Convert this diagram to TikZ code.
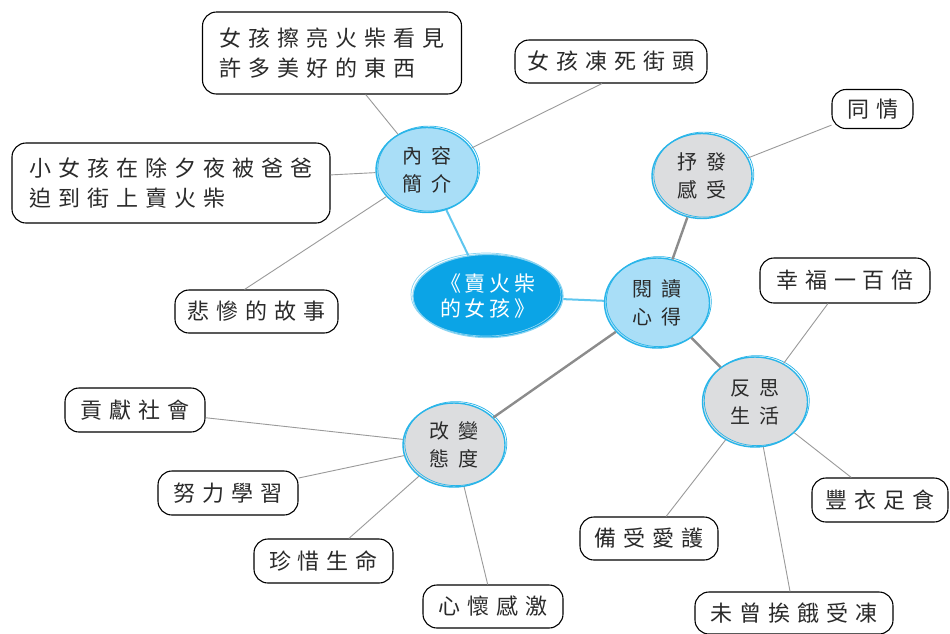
\documentclass[tikz,border=0pt]{standalone}
\usepackage{fontspec}
\setmainfont{Noto Sans CJK TC}
\usetikzlibrary{shapes.geometric}
\definecolor{hubline}{HTML}{29B5E9}
\definecolor{lightfill}{HTML}{A9DEF7}
\definecolor{greyfill}{HTML}{DCDDDF}
\definecolor{centerfill}{HTML}{0BA4E6}
\definecolor{centerline}{HTML}{8AD4F2}
\definecolor{linkgrey}{HTML}{9A9A9A}
\definecolor{hubgrey}{HTML}{8C8C8C}
\definecolor{bluelink}{HTML}{5EC6EF}
\definecolor{txt}{HTML}{2A2A2A}
\makeatletter
\newcommand\spc[2]{\@tfor\@ch:=#2\do{\@ch\hspace{#1}}\unskip}
\makeatother
\newcommand\ls[1]{\spc{7pt}{#1}}
\newcommand\hs[1]{\spc{9pt}{#1}}
\newcommand\cs[1]{\spc{4pt}{#1}}
\tikzset{
  leaf/.style={draw=black, line width=1.1pt, fill=white, rounded corners=14pt,
    inner sep=0pt, text=txt, font=\fontsize{22pt}{30pt}\selectfont},
  hub/.style={ellipse, draw=hubline, line width=1.4pt, inner sep=0pt, text=txt,
    align=center, font=\fontsize{20pt}{28pt}\selectfont,
    postaction={draw=hubline, line width=0.7pt, transform canvas={shift={(1.8pt,1.4pt)}}}},
  lighthub/.style={hub, fill=lightfill},
  greyhub/.style={hub, fill=greyfill},
  centre/.style={ellipse, fill=centerfill, draw=centerline, line width=1.2pt, inner sep=0pt,
    text=white, align=center, font=\fontsize{21pt}{25pt}\selectfont,
    postaction={draw=centerline, line width=0.7pt, transform canvas={shift={(-2pt,1.5pt)}}}},
  thin/.style={draw=linkgrey, line width=0.9pt},
  thick/.style={draw=hubgrey, line width=2.4pt},
  blue/.style={draw=bluelink, line width=2pt}
}
\begin{document}
\begin{tikzpicture}[x=1pt,y=-1pt]
\useasboundingbox[fill=white] (0,0) rectangle (950,633);
% hubs
\node[centre, minimum width=150pt, minimum height=83pt] (C) at (488,296) {\cs{《賣火柴}\\\cs{的女孩》}};
\node[lighthub, minimum width=102pt, minimum height=85pt] (H1) at (427,170) {\hs{內容}\\\hs{簡介}};
\node[lighthub, minimum width=105pt, minimum height=90pt] (H2) at (657,303) {\hs{閱讀}\\\hs{心得}};
\node[greyhub, minimum width=100pt, minimum height=85pt] (H3) at (702,176) {\hs{抒發}\\\hs{感受}};
\node[greyhub, minimum width=105pt, minimum height=90pt] (H4) at (755,402) {\hs{反思}\\\hs{生活}};
\node[greyhub, minimum width=102pt, minimum height=84pt] (H5) at (454,445) {\hs{改變}\\\hs{態度}};
% leaves
\node[leaf, align=left, minimum width=259pt, minimum height=82pt] (L1) at (332,53) {\ls{女孩擦亮火柴看見}\\\ls{許多美好的東西}};
\node[leaf, minimum width=192pt, minimum height=43pt] (L2) at (611,61.5) {\ls{女孩凍死街頭}};
\node[leaf, align=left, minimum width=318pt, minimum height=80pt] (L3) at (171,183) {\ls{小女孩在除夕夜被爸爸}\\\ls{迫到街上賣火柴}};
\node[leaf, minimum width=163pt, minimum height=43pt] (L4) at (256.5,311.5) {\ls{悲慘的故事}};
\node[leaf, minimum width=81pt, minimum height=39pt] (L5) at (872.5,109) {\ls{同情}};
\node[leaf, minimum width=170pt, minimum height=45pt] (L6) at (845,280.5) {\ls{幸福一百倍}};
\node[leaf, minimum width=136pt, minimum height=44pt] (L7) at (880,500) {\ls{豐衣足食}};
\node[leaf, minimum width=138pt, minimum height=43pt] (L8) at (649,538.5) {\ls{備受愛護}};
\node[leaf, minimum width=198pt, minimum height=42pt] (L9) at (794,613) {\ls{未曾挨餓受凍}};
\node[leaf, minimum width=140pt, minimum height=44pt] (L10) at (135,410) {\ls{貢獻社會}};
\node[leaf, minimum width=140pt, minimum height=44pt] (L11) at (228,493) {\ls{努力學習}};
\node[leaf, minimum width=139pt, minimum height=44pt] (L12) at (323.5,561) {\ls{珍惜生命}};
\node[leaf, minimum width=140pt, minimum height=43pt] (L13) at (493,606.5) {\ls{心懷感激}};
% connectors
\draw[blue] (C) -- (H1);
\draw[blue] (C) -- (H2);
\draw[thick] (H2) -- (H3);
\draw[thick] (H2) -- (H4);
\draw[thick] (H2) -- (H5);
\draw[thin] (L1) -- (H1);
\draw[thin] ([xshift=-9pt]L2.south) -- (H1);
\draw[thin] (L3) -- (H1);
\draw[thin] ([xshift=-12pt]L4.north) -- (H1);
\draw[thin] (L5) -- (H3);
\draw[thin] (L6) -- (H4);
\draw[thin] (L7) -- (H4);
\draw[thin] (L8) -- (H4);
\draw[thin] (L9) -- (H4);
\draw[thin] (L10) -- (H5);
\draw[thin] (L11) -- (H5);
\draw[thin] (L12) -- (H5);
\draw[thin] (L13) -- (H5);
\end{tikzpicture}
\end{document}
